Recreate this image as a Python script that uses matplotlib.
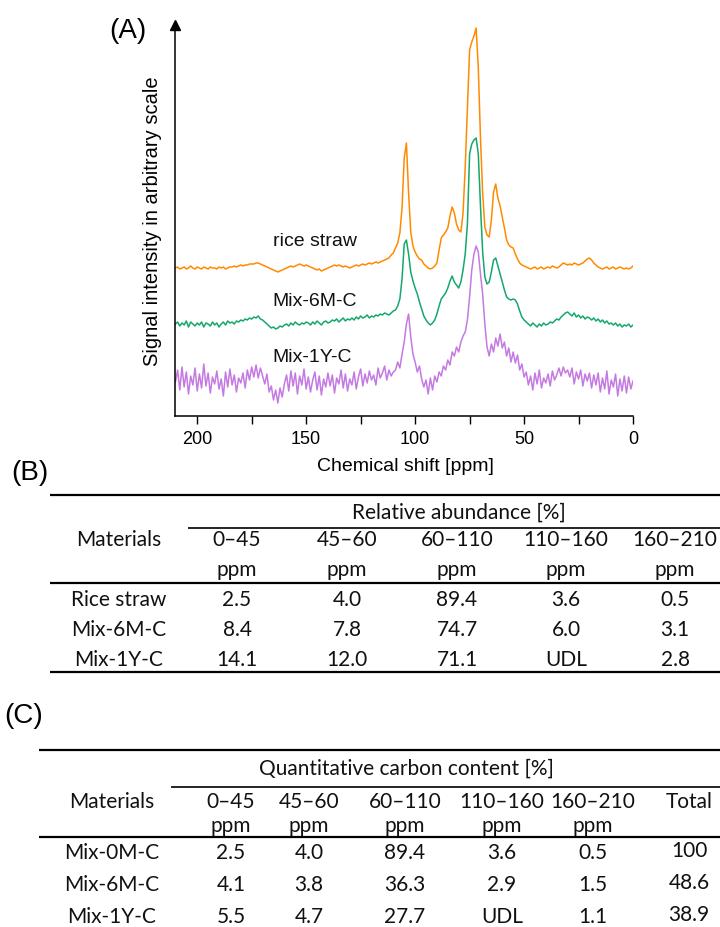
import numpy as np
import matplotlib
matplotlib.use("Agg")
import matplotlib.pyplot as plt
from matplotlib.lines import Line2D

# ---------------------------------------------------------------
# 13C CP/MAS NMR spectra (intensity above each trace's own baseline),
# sampled every 1 ppm from 210 ppm down to 0 ppm
# ---------------------------------------------------------------
shift_ppm = np.arange(210, -1, -1)

rice_straw = [
    0, 1, -1, 0, 1, -1, 0, 2, 0, -1, 1,          # 210-200
    0, -1, 1, 0, -1, 1, 0, 0, -1, 1,             # 199-190
    0, 1, -1, 0, 1, 1, 2, 1, 2, 3,               # 189-180
    2, 3, 3, 4, 4, 4, 5, 5, 4, 3,                # 179-170
    2, 1, 0, -1, -2, -3, -4, -3, -2, -1,         # 169-160
    0, 1, 2, 1, 2, 3, 4, 3, 2, 3,                # 159-150
    2, 1, 0, -1, -2, -1, -3, -2, -1, 0,          # 149-140
    1, 2, 3, 2, 3, 2, 1, 2, 1, 0,                # 139-130
    1, 2, 3, 2, 3, 4, 3, 4, 5, 4,                # 129-120
    5, 6, 5, 6, 7, 8, 9, 10, 13, 15,             # 119-110
    20, 25, 35, 60, 110, 125, 75, 36, 22, 16,    # 109-100
    12, 9, 8, 4, 2, 0, -1, 0, 2, 5,              # 99-90
    18, 30, 33, 36, 40, 52, 61, 55, 44, 38,      # 89-80
    36, 55, 101, 160, 218, 226, 232, 240, 200, 130,  # 79-70
    75, 41, 33, 31, 48, 76, 84, 70, 62, 51,      # 69-60
    40, 28, 23, 21, 20, 14, 9, 5, 3, 2,          # 59-50
    1, 0, -1, 0, 1, -1, 0, 1, -1, 0,             # 49-40
    1, 0, 2, 1, 0, 1, 3, 5, 4, 3,                # 39-30
    4, 3, 5, 4, 3, 4, 5, 7, 9, 10,               # 29-20
    8, 5, 3, 1, 0, -1, 0, 1, -1, 0,              # 19-10
    1, -1, 0, 1, 0, -1, 0, -1, 0, 2,             # 9-0
]

mix_6m_c = [
    0, 2, -2, 1, -1, 3, -3, 2, 0, -2, 1,         # 210-200
    -1, 2, -3, 1, 0, -2, 2, -1, 1, -3,           # 199-190
    0, 2, -1, 3, 1, 2, 0, 3, 2, 4,               # 189-180
    3, 5, 4, 6, 5, 7, 6, 8, 5, 4,                # 179-170
    2, 0, -2, -4, -3, -5, -4, -2, -3, -1,        # 169-160
    0, -2, 1, -1, 2, 0, -1, 1, 0, 2,             # 159-150
    1, -1, 2, 0, 3, 1, -1, 2, 3, 1,              # 149-140
    2, 4, 3, 5, 2, 4, 6, 3, 5, 4,                # 139-130
    6, 4, 7, 5, 8, 6, 7, 9, 6, 8,                # 129-120
    7, 9, 8, 10, 9, 11, 10, 9, 11, 13,           # 119-110
    14, 18, 25, 45, 80, 84, 70, 52, 43, 36,      # 109-100
    30, 22, 15, 8, 4, 1, -1, 1, 4, 10,           # 99-90
    18, 25, 28, 31, 36, 43, 48, 42, 39, 36,      # 89-80
    42, 54, 70, 100, 170, 180, 184, 186, 170, 118,  # 79-70
    72, 47, 40, 42, 52, 64, 66, 58, 50, 42,      # 69-60
    34, 27, 25, 24, 25, 24, 20, 13, 7, 4,        # 59-50
    2, 0, -2, 1, -1, -3, 0, -2, 1, -1,           # 49-40
    0, 2, 1, 3, 5, 4, 7, 9, 11, 12,              # 39-30
    10, 8, 11, 7, 9, 6, 8, 5, 7, 6,              # 29-20
    4, 6, 3, 5, 2, 4, 1, 3, 0, 1,                # 19-10
    -1, 1, -2, 0, -3, -1, -2, 0, -3, -1,         # 9-0
]

mix_1y_c = [
    0, 12, -8, 15, -5, 10, -12, 6, -3, 14, -9,   # 210-200
    8, -6, 18, -4, 9, -11, 5, -2, 11, -7,        # 199-190
    3, -14, 10, -5, 13, -3, 7, -10, 4, -1,       # 189-180
    9, -6, 12, 2, 15, 5, 17, 4, 14, 6,           # 179-170
    -2, 8, -10, -4, -18, -8, -21, -6, -15, -2,   # 169-160
    7, -9, 11, -4, 9, -12, 6, -3, 13, -7,        # 159-150
    5, -10, 2, 10, -8, 6, -13, 3, -5, 9,         # 149-140
    -4, 7, -11, 4, -2, 12, -6, 8, -9, 3,         # 139-130
    -3, 10, -7, 5, 13, -4, 8, -1, 11, 2,         # 129-120
    7, -3, 14, 4, 9, 16, 2, 12, 6, 10,           # 119-110
    12, 20, 14, 28, 40, 58, 68, 45, 28, 20,      # 109-100
    10, 16, 3, -5, 2, -12, 4, -8, 6, 0,          # 99-90
    10, 6, 16, 12, 22, 17, 30, 26, 35, 30,       # 89-80
    40, 46, 50, 62, 85, 112, 128, 136, 130, 108, # 79-70
    88, 58, 35, 26, 38, 30, 44, 36, 48, 34,      # 69-60
    40, 26, 34, 20, 30, 19, 27, 12, 18, 5,       # 59-50
    10, -3, 6, -8, 9, -2, 12, -6, 4, -1,         # 49-40
    8, -4, 11, 2, 7, 14, 6, 15, 9, 12,           # 39-30
    5, 14, -2, 10, 3, 12, -4, 8, 1, 9,           # 29-20
    -6, 7, -3, 9, -10, 4, -7, 11, -12, 2,        # 19-10
    -5, 8, -14, 3, -9, 6, -11, 5, -7, 1,         # 9-0
]

spectrum_names = ["rice straw", "Mix-6M-C", "Mix-1Y-C"]

# ---------------------------------------------------------------
# Table data
# ---------------------------------------------------------------
range_labels = ["0\u201345", "45\u201360", "60\u2013110", "110\u2013160", "160\u2013210"]

abundance_materials = ["Rice straw", "Mix-6M-C", "Mix-1Y-C"]
abundance_values = [
    ["2.5", "4.0", "89.4", "3.6", "0.5"],
    ["8.4", "7.8", "74.7", "6.0", "3.1"],
    ["14.1", "12.0", "71.1", "UDL", "2.8"],
]

carbon_materials = ["Mix-0M-C", "Mix-6M-C", "Mix-1Y-C"]
carbon_values = [
    ["2.5", "4.0", "89.4", "3.6", "0.5"],
    ["4.1", "3.8", "36.3", "2.9", "1.5"],
    ["5.5", "4.7", "27.7", "UDL", "1.1"],
]
carbon_totals = ["100", "48.6", "38.9"]

# ---------------------------------------------------------------
W, H = 720, 927
fig = plt.figure(figsize=(W / 100, H / 100), dpi=100)
fig.patch.set_facecolor("white")

SPEC_FONT = ["Liberation Sans", "DejaVu Sans"]
TAB_FONT = ["Lato", "DejaVu Sans"]


def fx(px):
    return px / W


def fy(py):
    return 1 - py / H


# ---------------- (A) spectra ----------------
ax_left, ax_right, ax_bottom, ax_top = 175, 633, 416, 25
ax = fig.add_axes([fx(ax_left), fy(ax_bottom),
                   (ax_right - ax_left) / W, (ax_bottom - ax_top) / H])
ax.set_xlim(210.2, 0)
ax.set_ylim(0, ax_bottom - ax_top)

colors = ["#ff8a00", "#14a86c", "#c47ae2"]
offsets = [148, 92, 34]
series = [rice_straw, mix_6m_c, mix_1y_c]
widths = [1.1, 1.1, 1.1]
for vals, col, off, lw in zip(series, colors, offsets, widths):
    ax.plot(shift_ppm, np.asarray(vals) + off, color=col, lw=lw)

label_y = [174, 114, 59]
for name, ly in zip(spectrum_names, label_y):
    ax.text(165.3, ly, name, fontsize=14, family=SPEC_FONT,
            ha="left", va="center", color="#111111")

for side in ("top", "right"):
    ax.spines[side].set_visible(False)
for side in ("left", "bottom"):
    ax.spines[side].set_linewidth(1.1)
ax.plot(0, 1, marker="^", color="black", markersize=7,
        transform=ax.transAxes, clip_on=False)

ax.set_yticks([])
major = np.arange(0, 201, 25)
ax.set_xticks(major)
ax.set_xticklabels([str(v) if v % 50 == 0 else "" for v in major],
                   fontsize=13, family=SPEC_FONT)
ax.tick_params(axis="x", direction="out", length=6, width=1.0, pad=5)

ax.set_xlabel("Chemical shift [ppm]", fontsize=14, family=SPEC_FONT)
ax.xaxis.label.set_va("center")
ax.xaxis.set_label_coords((405 - ax_left) / (ax_right - ax_left),
                          (ax_bottom - 466) / (ax_bottom - ax_top))
ax.set_ylabel("Signal intensity in arbitrary scale", fontsize=14.5,
              family=SPEC_FONT)
ax.yaxis.label.set_va("center")
ax.yaxis.set_label_coords((153 - ax_left) / (ax_right - ax_left),
                          (ax_bottom - 221) / (ax_bottom - ax_top))

fig.text(fx(128), fy(31), "(A)", fontsize=20, family=SPEC_FONT,
         ha="center", va="center")


# ---------------- table helpers ----------------
def hline(x0, x1, y, lw):
    fig.add_artist(Line2D([fx(x0), fx(x1)], [fy(y), fy(y)],
                          transform=fig.transFigure, color="black",
                          lw=lw, solid_capstyle="butt"))


def cell(x, y, s, size=15):
    fig.text(fx(x), fy(y), s, fontsize=size, family=TAB_FONT,
             ha="center", va="center", color="#111111")


# ---------------- (B) relative abundance ----------------
fig.text(fx(30), fy(473), "(B)", fontsize=20, family=SPEC_FONT,
         ha="center", va="center")
b_cols = [237, 347, 457, 566, 675]
b_mat_x = 119
hline(50, 720, 495, 1.6)
cell(459, 513, "Relative abundance [%]")
hline(188, 720, 528, 1.2)
cell(b_mat_x, 540, "Materials")
for x, lab in zip(b_cols, range_labels):
    cell(x, 540, lab)
    cell(x, 570, "ppm")
hline(50, 720, 583, 1.6)
b_rows = [600, 630, 660]
for y, mat, vals in zip(b_rows, abundance_materials, abundance_values):
    cell(b_mat_x, y, mat)
    for x, v in zip(b_cols, vals):
        cell(x, y, v)
hline(50, 720, 672, 1.6)

# ---------------- (C) quantitative carbon content ----------------
fig.text(fx(24), fy(716), "(C)", fontsize=20, family=SPEC_FONT,
         ha="center", va="center")
c_cols = [231, 309, 405, 502, 593]
c_total_x = 689
c_mat_x = 112
hline(39, 720, 750, 1.6)
cell(406, 769, "Quantitative carbon content [%]")
hline(171, 720, 787, 1.2)
cell(c_mat_x, 802, "Materials")
for x, lab in zip(c_cols, range_labels):
    cell(x, 802, lab)
    cell(x, 826, "ppm")
cell(c_total_x, 802, "Total")
hline(39, 720, 837, 1.6)
c_rows = [853, 885, 917]
for y, mat, vals, tot in zip(c_rows, carbon_materials, carbon_values,
                             carbon_totals):
    cell(c_mat_x, y, mat)
    for x, v in zip(c_cols, vals):
        cell(x, y, v)
    cell(c_total_x, y - 2, tot)

fig.savefig("out.png", dpi=100, facecolor="white")
